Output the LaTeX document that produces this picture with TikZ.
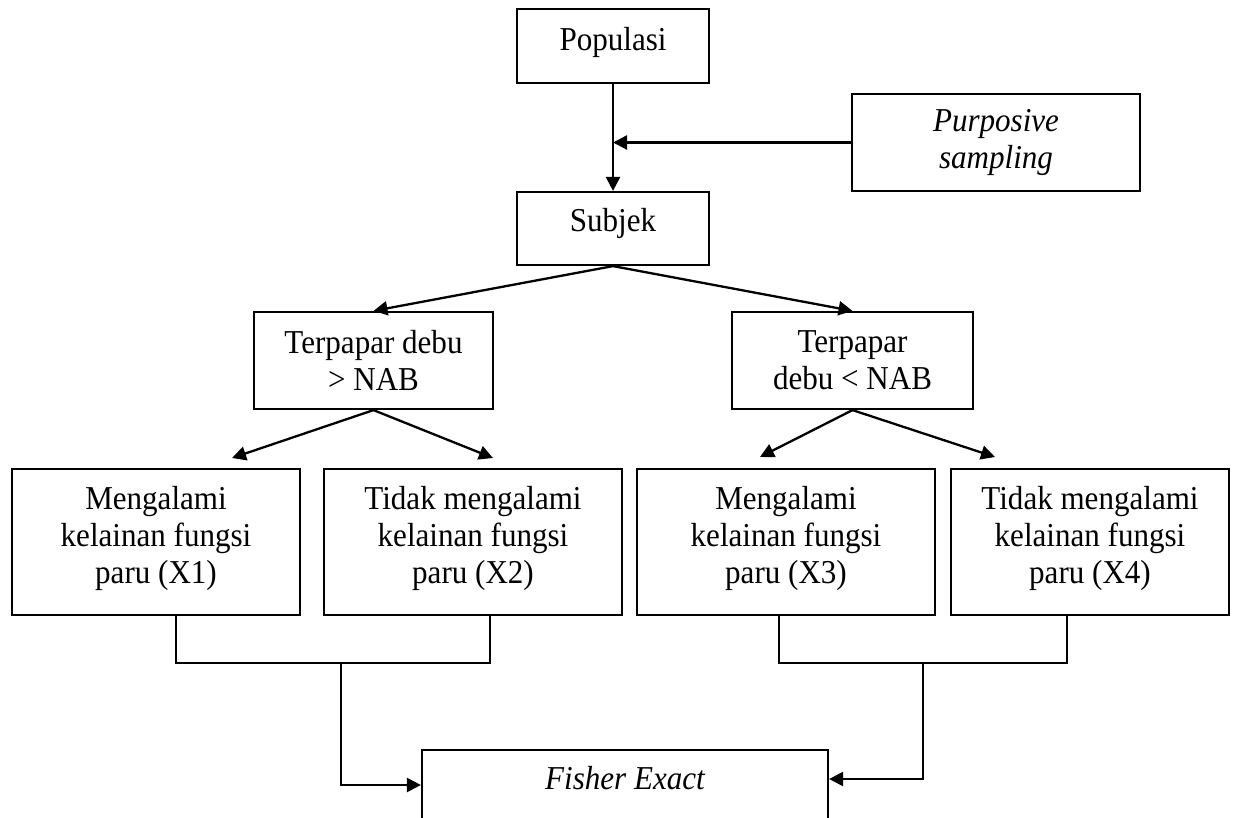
\documentclass[tikz,border=0pt]{standalone}
\usepackage{fontspec}
\setmainfont{Liberation Serif}[FakeStretch=0.93]
\usetikzlibrary{arrows.meta}
\newcommand{\xdp}[1]{\rule[-#1]{0pt}{0pt}}
\begin{document}
\begin{tikzpicture}[x=1pt,y=-1pt,
  box/.style={draw, line width=2.2pt, inner sep=0pt, align=center, font=\fontsize{33.4}{37}\selectfont},
  conn/.style={line width=2.3pt},
  arr/.style={conn, -{Triangle[length=14pt,width=14pt]}},
]
\clip (0,0) rectangle (1233,818);
% boxes
\node[box, minimum width=192pt, minimum height=74pt, text height=21pt, text depth=11pt] (pop) at (613,46) {Populasi};
\node[box, minimum width=288pt, minimum height=97pt] (purp) at (996,142.5) {\itshape Purposive\\\itshape sampling};
\node[box, minimum width=192pt, minimum height=73pt, text height=21pt, text depth=14pt] (subj) at (613,228.5) {Subjek};
\node[box, minimum width=239pt, minimum height=97pt] (t1) at (373.5,360.5) {Terpapar debu\\> NAB};
\node[box, minimum width=241pt, minimum height=97pt] (t2) at (852.5,360.5) {Terpapar\\debu < NAB};
\node[box, minimum width=288pt, minimum height=146pt] (x1) at (156,542) {Mengalami\\kelainan fungsi\\paru (X1)\xdp{15pt}};
\node[box, minimum width=298pt, minimum height=146pt] (x2) at (473,542) {Tidak mengalami\\kelainan fungsi\\paru (X2)\xdp{15pt}};
\node[box, minimum width=298pt, minimum height=146pt] (x3) at (786,542) {Mengalami\\kelainan fungsi\\paru (X3)\xdp{15pt}};
\node[box, minimum width=278pt, minimum height=146pt] (x4) at (1090,542) {Tidak mengalami\\kelainan fungsi\\paru (X4)\xdp{15pt}};
\node[box, minimum width=406pt, minimum height=80pt, text height=21pt, text depth=23pt] (fish) at (625,790) {\itshape Fisher Exact};
% coordinates
\coordinate (m) at (613,142.5);
\coordinate (a1) at (232,458);
\coordinate (a2) at (493,458);
\coordinate (a3) at (760,457);
\coordinate (a4) at (995,457);
\coordinate (d1) at (176,663);
\coordinate (d2) at (490,663);
\coordinate (j1) at (341,663);
\coordinate (d3) at (779,663);
\coordinate (d4) at (1067,663);
\coordinate (j2) at (923,663);
% connectors
\draw[arr] (pop.south) -- (subj.north);
\draw[arr] (purp.west) -- (m);
\draw[arr] (subj.south) -- (t1.north);
\draw[arr] (subj.south) -- (t2.north);
\draw[arr] (t1.south) -- (a1);
\draw[arr] (t1.south) -- (a2);
\draw[arr] (t2.south) -- (a3);
\draw[arr] (t2.south) -- (a4);
\draw[conn] (x1.south -| d1) -- (d1) -- (d2) -- (x2.south -| d2);
\draw[conn] (x3.south -| d3) -- (d3) -- (d4) -- (x4.south -| d4);
\draw[arr] (j1) |- (fish.west |- 0,785);
\draw[arr] (j2) |- (fish.east |- 0,779);
\end{tikzpicture}
\end{document}
